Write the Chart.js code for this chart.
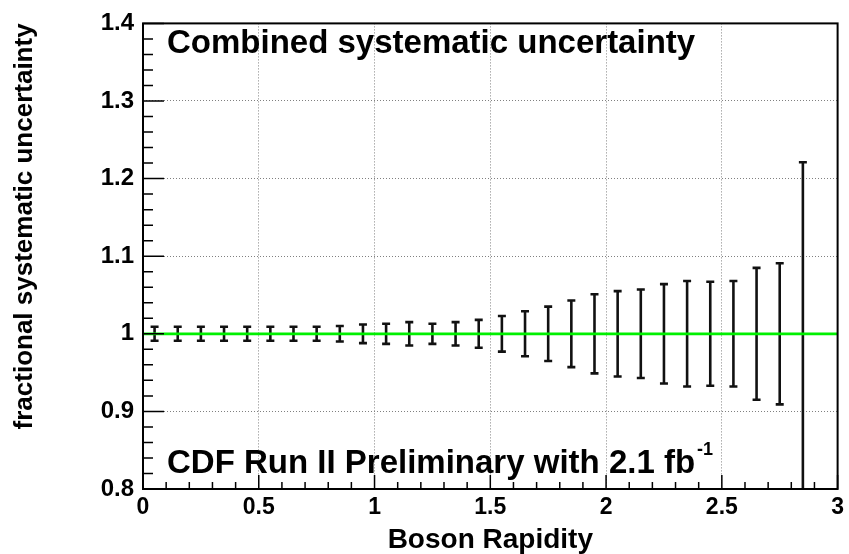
<!DOCTYPE html>
<html lang="en">
  <head>
    <title>Combined systematic uncertainty</title>
    <script src="https://cdn.jsdelivr.net/npm/chart.js"></script>
    <style>
      body { margin: 0; background: #fff; }
      #sysChart { display: block; }
    </style>
  </head>
  <body>
    <canvas id="sysChart" width="849" height="554"></canvas>

    <script>
      // bin centres in boson rapidity and the fractional systematic error on each
      const rapidity = [
        0.05, 0.15, 0.25, 0.35, 0.45, 0.55, 0.65, 0.75, 0.85, 0.95,
        1.05, 1.15, 1.25, 1.35, 1.45, 1.55, 1.65, 1.75, 1.85, 1.95,
        2.05, 2.15, 2.25, 2.35, 2.45, 2.55, 2.65, 2.75, 2.85,
      ];
      const central = [
        1, 1, 1, 1, 1, 1, 1, 1, 1, 1,
        1, 1, 1, 1, 1, 1, 1, 1, 1, 1,
        1, 1, 1, 1, 1, 1, 1, 1, 1,
      ];
      const sysError = [
        0.009, 0.009, 0.009, 0.009, 0.009, 0.009, 0.009, 0.009, 0.010, 0.012,
        0.013, 0.015, 0.013, 0.015, 0.018, 0.023, 0.029, 0.035, 0.043, 0.051,
        0.055, 0.057, 0.064, 0.068, 0.067, 0.068, 0.085, 0.091, 0.221,
      ];
      const refLine = [{ x: 0, y: 1 }, { x: 3, y: 1 }];
      const xTicks = [0, 0.5, 1, 1.5, 2, 2.5, 3];
      const yTicks = [0.8, 0.9, 1, 1.1, 1.2, 1.3, 1.4];
      const topLabel = "Combined systematic uncertainty";
      const cdfLabel = "CDF Run II Preliminary with 2.1 fb";

      const boldFont = '"Liberation Sans", Arial, Helvetica, sans-serif';

      // error bars, drawn through the chart scales
      const errorBars = {
        id: "errorBars",
        beforeDatasetsDraw(chart) {
          const { ctx, chartArea, scales } = chart;
          ctx.save();
          ctx.beginPath();
          ctx.rect(chartArea.left, chartArea.top, chartArea.right - chartArea.left, chartArea.bottom - chartArea.top);
          ctx.clip();
          ctx.strokeStyle = "#111";
          ctx.lineWidth = 2.6;
          rapidity.forEach((r, i) => {
            const x = scales.x.getPixelForValue(r);
            const yHi = scales.y.getPixelForValue(central[i] + sysError[i]);
            const yLo = scales.y.getPixelForValue(central[i] - sysError[i]);
            ctx.beginPath();
            ctx.moveTo(x, yHi);
            ctx.lineTo(x, yLo);
            ctx.moveTo(x - 4, yHi);
            ctx.lineTo(x + 4, yHi);
            ctx.moveTo(x - 4, yLo);
            ctx.lineTo(x + 4, yLo);
            ctx.stroke();
          });
          ctx.restore();
        },
      };

      // ROOT style frame with inward ticks + the two labels
      const frameAndText = {
        id: "frameAndText",
        afterDraw(chart) {
          const { ctx, chartArea, scales } = chart;
          const { left, right, top, bottom } = chartArea;
          ctx.save();
          ctx.strokeStyle = "#000";
          ctx.lineWidth = 1.5;
          ctx.beginPath();
          for (let k = 0; k <= 30; k++) {
            const x = scales.x.getPixelForValue(k / 10);
            ctx.moveTo(x, bottom);
            ctx.lineTo(x, bottom - (k % 5 === 0 ? 14 : 7));
          }
          for (let k = 0; k <= 30; k++) {
            const y = scales.y.getPixelForValue(0.8 + k * 0.02);
            ctx.moveTo(left, y);
            ctx.lineTo(left + (k % 5 === 0 ? 21 : 10), y);
          }
          ctx.stroke();

          ctx.lineWidth = 2;
          ctx.strokeRect(left, top, right - left, bottom - top);

          ctx.fillStyle = "#000";
          ctx.textBaseline = "alphabetic";
          ctx.textAlign = "left";

          ctx.font = "bold 33px " + boldFont;
          ctx.fillText(topLabel, left + 24, top + 30);
          ctx.fillText(cdfLabel, left + 24, bottom - 16);
          const w = ctx.measureText(cdfLabel).width;
          ctx.font = "bold 18px " + boldFont;
          ctx.fillText("-1", left + 26 + w, bottom - 34);
          ctx.restore();
        },
      };

      const ctx = document.getElementById("sysChart").getContext("2d");
      const chart = new Chart(ctx, {
        type: "scatter",
        data: {
          datasets: [
            {
              label: "reference",
              data: refLine,
              showLine: true,
              borderColor: "#00f000",
              borderWidth: 2.8,
              pointRadius: 0,
            },
            {
              label: "central",
              data: rapidity.map((r, i) => ({ x: r, y: central[i] })),
              pointRadius: 0,
            },
          ],
        },
        options: {
          responsive: false,
          animation: false,
          layout: { padding: { top: 23, right: 9, left: 0, bottom: 0 } },
          plugins: { legend: { display: false }, tooltip: { enabled: false } },
          scales: {
            x: {
              type: "linear",
              min: 0,
              max: 3,
              afterFit: (s) => { s.height = 65; },
              afterBuildTicks: (s) => {
                s.ticks = xTicks.map((v) => ({ value: v }));
              },
              border: { display: false, dash: [1, 2] },
              grid: {
                drawTicks: false,
                color: (c) => (c.tick && (c.tick.value === 0 || c.tick.value === 3) ? "rgba(0,0,0,0)" : "#808080"),
                lineWidth: 1,
              },
              ticks: {
                padding: 5,
                color: "#000",
                maxRotation: 0,
                callback: (v) => String(v),
                font: { family: boldFont, size: 23, weight: "bold" },
              },
              title: {
                display: true,
                text: "Boson Rapidity",
                color: "#000",
                font: { family: boldFont, size: 28, weight: "bold", lineHeight: 1 },
                padding: 0,
              },
            },
            y: {
              min: 0.8,
              max: 1.4,
              afterFit: (s) => { s.width = 143; },
              afterBuildTicks: (s) => {
                s.ticks = yTicks.map((v) => ({ value: v }));
              },
              border: { display: false, dash: [1, 2] },
              grid: {
                drawTicks: false,
                color: (c) => (c.tick && (Math.abs(c.tick.value - 0.8) < 1e-6 || Math.abs(c.tick.value - 1.4) < 1e-6) ? "rgba(0,0,0,0)" : "#808080"),
                lineWidth: 1,
              },
              ticks: {
                padding: 9,
                color: "#000",
                callback: (v) => String(Math.round(v * 10) / 10),
                font: { family: boldFont, size: 24, weight: "bold" },
              },
              title: {
                display: true,
                text: "fractional systematic uncertainty",
                align: "end",
                color: "#000",
                font: { family: boldFont, size: 26, weight: "bold", lineHeight: 1 },
                padding: { top: 12, bottom: 0 },
              },
            },
          },
        },
        plugins: [errorBars, frameAndText],
      });
    </script>
  </body>
</html>
